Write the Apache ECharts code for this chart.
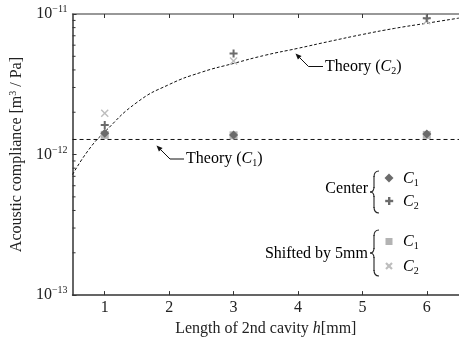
<!DOCTYPE html>
<html><head><meta charset="utf-8">
<script src="https://cdn.jsdelivr.net/npm/echarts@6/dist/echarts.min.js"></script>
<style>html,body{margin:0;padding:0;background:#fff}#c{width:459px;height:342px}</style>
</head><body><div id="c"></div>
<script>
const hValues = [1, 3, 6];
const centerC1 = [1.42e-12, 1.38e-12, 1.40e-12];
const centerC2 = [1.62e-12, 5.24e-12, 9.33e-12];
const shiftedC1 = [1.38e-12, 1.37e-12, 1.38e-12];
const shiftedC2 = [1.97e-12, 4.63e-12, 8.95e-12];
const theoryH = [0.5, 0.75, 1, 1.5, 2, 2.5, 3, 3.5, 4, 4.5, 5, 5.5, 6, 6.5];
const theoryC2 = [7.2e-13, 1.08e-12, 1.45e-12, 2.35e-12, 3.15e-12, 3.85e-12, 4.45e-12, 5.1e-12, 5.7e-12, 6.4e-12, 7.15e-12, 7.9e-12, 8.6e-12, 9.35e-12];
const theoryC1H = [0.5, 6.5];
const theoryC1 = [1.28e-12, 1.28e-12];
const xTicks = [1, 2, 3, 4, 5, 6];
const yMinorTicks = [2e-13,3e-13,4e-13,5e-13,6e-13,7e-13,8e-13,9e-13,2e-12,3e-12,4e-12,5e-12,6e-12,7e-12,8e-12,9e-12];

const FONT = 'Liberation Serif';
const FS = 16, SFS = 10;
const DARK = '#6b6b6b', LIGHT = '#b3b3b3';
const PLUS = 'path://M3,0H5V3H8V5H5V8H3V5H0V3H3Z';
const CROSS = 'path://M1,0L4,3L7,0L8,1L5,4L8,7L7,8L4,5L1,8L0,7L3,4L0,1Z';
const zip = (a, b) => a.map((v, i) => [v, b[i]]);

const chart = echarts.init(document.getElementById('c'), null, {renderer: 'canvas'});
const rich = {
  b: {fontFamily: FONT, fontSize: FS, color: '#222'},
  s: {fontFamily: FONT, fontSize: SFS, color: '#222', padding: [0, 0, 9, 0]}
};
const option = {
  animation: false,
  backgroundColor: '#fff',
  grid: {left: 71.5, top: 14, bottom: 43, right: -34},
  xAxis: [{
    type: 'value', min: 0.5, max: 6.5, position: 'bottom',
    axisLine: {lineStyle: {color: '#333', width: 1.5}},
    axisTick: {inside: true, length: 4, customValues: xTicks, lineStyle: {color: '#333'}},
    axisLabel: {customValues: xTicks, fontFamily: FONT, fontSize: FS, color: '#222', margin: 5},
    splitLine: {show: false},
    name: '{n|Length of 2nd cavity }{i|h}{n|[mm]}', nameLocation: 'middle', nameGap: 22,
    nameTextStyle: {rich: {n: {fontFamily: FONT, fontSize: FS, color: '#222'}, i: {fontFamily: FONT, fontSize: FS, fontStyle: 'italic', color: '#222'}}}
  }, {
    type: 'value', min: 0.5, max: 6.5, position: 'top',
    axisLine: {lineStyle: {color: '#777', width: 1.5}},
    axisTick: {inside: true, length: 4, customValues: xTicks, lineStyle: {color: '#333'}},
    axisLabel: {show: false}, splitLine: {show: false}
  }],
  yAxis: [{
    type: 'log', logBase: 10, min: 1e-13, max: 1e-11,
    axisLine: {show: true, lineStyle: {color: '#333', width: 1.5}},
    axisTick: {show: true, inside: true, length: 4, lineStyle: {color: '#333'}},
    axisLabel: {
      margin: 5,
      formatter: v => '{b|10}{s|\u2212' + Math.round(-Math.log10(v)) + '}',
      rich: rich
    },
    splitLine: {show: false},
    name: '{n|Acoustic compliance [m}{s|3}{n| / Pa]}', nameLocation: 'middle', nameGap: 46,
    nameTextStyle: {rich: {n: {fontFamily: FONT, fontSize: FS, color: '#222'}, s: {fontFamily: FONT, fontSize: SFS, color: '#222', padding: [0, 0, 8, 0]}}}
  }],
  series: [
    {type: 'custom', name: 'minorTicks', silent: true, z: 1,
     data: yMinorTicks.map(v => [0.5, v]),
     renderItem: (params, api) => {
       const p = api.coord([api.value(0), api.value(1)]);
       return {type: 'line', shape: {x1: p[0], y1: p[1], x2: p[0] + 3, y2: p[1]}, style: {stroke: '#333', lineWidth: 1}};
     }},
    {type: 'line', name: 'Theory (C1)', data: zip(theoryC1H, theoryC1), showSymbol: false, silent: true,
     lineStyle: {color: '#111', width: 1, type: [4, 3]}, z: 2},
    {type: 'line', name: 'Theory (C2)', data: zip(theoryH, theoryC2), showSymbol: false, smooth: true, silent: true,
     lineStyle: {color: '#111', width: 1, type: [3, 2]}, z: 2},
    {type: 'scatter', name: 'Shifted C1', data: zip(hValues, shiftedC1), symbol: 'rect', symbolSize: 8,
     itemStyle: {color: LIGHT, opacity: 1}, z: 3},
    {type: 'scatter', name: 'Shifted C2', data: zip(hValues, shiftedC2), symbol: CROSS, symbolSize: 8,
     itemStyle: {color: '#bdbdbd', opacity: 1}, z: 3},
    {type: 'scatter', name: 'Center C1', data: zip(hValues, centerC1), symbol: 'diamond', symbolSize: 9,
     itemStyle: {color: DARK, opacity: 1}, z: 4},
    {type: 'scatter', name: 'Center C2', data: zip(hValues, centerC2), symbol: PLUS, symbolSize: 8,
     itemStyle: {color: DARK, opacity: 1}, z: 4}
  ],
  graphic: []
};

function brace(x, y1, y2) {
  const ym = (y1 + y2) / 2;
  return {type: 'group', children: [
    {type: 'bezierCurve', shape: {x1: x + 5, y1: y1, x2: x, y2: y1 + 6, cpx1: x, cpy1: y1}, style: {stroke: '#222', lineWidth: 1.1, fill: null}},
    {type: 'line', shape: {x1: x, y1: y1 + 5, x2: x, y2: ym - 4}, style: {stroke: '#222', lineWidth: 1.1}},
    {type: 'bezierCurve', shape: {x1: x, y1: ym - 5, x2: x - 4, y2: ym, cpx1: x, cpy1: ym}, style: {stroke: '#222', lineWidth: 1.1, fill: null}},
    {type: 'bezierCurve', shape: {x1: x - 4, y1: ym, x2: x, y2: ym + 5, cpx1: x, cpy1: ym}, style: {stroke: '#222', lineWidth: 1.1, fill: null}},
    {type: 'line', shape: {x1: x, y1: ym + 4, x2: x, y2: y2 - 5}, style: {stroke: '#222', lineWidth: 1.1}},
    {type: 'bezierCurve', shape: {x1: x, y1: y2 - 6, x2: x + 5, y2: y2, cpx1: x, cpy1: y2}, style: {stroke: '#222', lineWidth: 1.1, fill: null}}
  ]};
}
const tRich = {
  n: {fontFamily: FONT, fontSize: FS, color: '#222'},
  i: {fontFamily: FONT, fontSize: FS, fontStyle: 'italic', color: '#222'},
  sub: {fontFamily: FONT, fontSize: SFS, color: '#222', padding: [8, 0, 0, 0]}
};
function label(x, y, str, align) {
  return {type: 'text', x: x, y: y, style: {text: str, rich: tRich, align: align || 'left', verticalAlign: 'middle'}, z: 10};
}
function arrow(tx, ty, mx, my, ex) {
  const ang = Math.atan2(ty - my, tx - mx);
  const L = 6, W = 2.6;
  const bx = tx - L * Math.cos(ang), by = ty - L * Math.sin(ang);
  return {type: 'group', children: [
    {type: 'polyline', shape: {points: [[bx, by], [mx, my], [ex, my]]}, style: {stroke: '#111', lineWidth: 1, fill: null}},
    {type: 'polygon', shape: {points: [[tx, ty], [bx - W * Math.sin(ang), by + W * Math.cos(ang)], [bx + W * Math.sin(ang), by - W * Math.cos(ang)]]}, style: {fill: '#111'}}
  ]};
}
option.graphic = [
  arrow(295.5, 53.5, 308.5, 66.5, 323),
  label(325, 67, '{n|Theory (}{i|C}{sub|2}{n|)}'),
  arrow(156.5, 145.5, 170, 159, 184),
  label(186, 159, '{n|Theory (}{i|C}{sub|1}{n|)}'),
  label(368, 189, '{n|Center}', 'right'),
  brace(374, 171, 213),
  {type: 'polygon', shape: {points: [[389, 173.5], [393.5, 178], [389, 182.5], [384.5, 178]]}, style: {fill: DARK}},
  label(403, 179, '{i|C}{sub|1}'),
  {type: 'rect', shape: {x: 388, y: 197, width: 2.4, height: 8}, style: {fill: DARK}},
  {type: 'rect', shape: {x: 385.2, y: 199.8, width: 8, height: 2.4}, style: {fill: DARK}},
  label(403, 202, '{i|C}{sub|2}'),
  label(368, 254, '{n|Shifted by 5mm}', 'right'),
  brace(374, 230, 276),
  {type: 'rect', shape: {x: 385.5, y: 238, width: 7, height: 7}, style: {fill: LIGHT}},
  label(403, 242, '{i|C}{sub|1}'),
  {type: 'line', shape: {x1: 386, y1: 263, x2: 392, y2: 269}, style: {stroke: '#bdbdbd', lineWidth: 2.2}},
  {type: 'line', shape: {x1: 392, y1: 263, x2: 386, y2: 269}, style: {stroke: '#bdbdbd', lineWidth: 2.2}},
  label(403, 267, '{i|C}{sub|2}')
];
chart.setOption(option);
</script></body></html>
